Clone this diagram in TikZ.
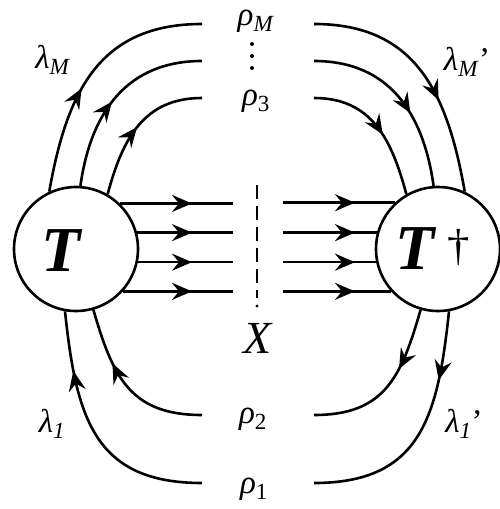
\documentclass[tikz,border=0pt]{standalone}
\usepackage{fontspec}
\setmainfont{Liberation Serif}
\usetikzlibrary{arrows.meta,decorations.markings}

\newcommand{\glab}[2]{\textit{#1}\textsubscript{#2}}

\tikzset{
  line/.style={line width=2.6pt},
  flow/.style={postaction={decorate},
    decoration={markings, mark=at position #1 with {\arrow{Stealth[length=20pt,width=17pt,inset=7pt]}}}},
  blob/.style={draw, circle, line width=2.6pt, minimum size=124pt, inner sep=0pt},
}

\begin{document}
\begin{tikzpicture}[x=1pt, y=1pt, font=\fontsize{33}{40}\selectfont, inner sep=1pt]
\useasboundingbox (0,0) rectangle (500,-509);

% Amplitudes
\node[blob] (T) at (76,-249) {};
\node[blob] (Td) at (438,-249) {};
\node[font=\fontsize{64}{64}\selectfont] (Tlab) at (62,-251) {\textbf{\textit{T}}};
\node[font=\fontsize{64}{64}\selectfont] (Tdlab) at (433,-249) {\textbf{\textit{T}}\,\textsuperscript{†}};

% Free ends
\coordinate (aM) at (202,-24);
\coordinate (aN) at (202,-61);
\coordinate (a3) at (202,-98);
\coordinate (bM) at (314,-24);
\coordinate (bN) at (314,-61);
\coordinate (b3) at (314,-98);
\coordinate (c2) at (202,-415);
\coordinate (c1) at (202,-483);
\coordinate (d2) at (314,-415);
\coordinate (d1) at (314,-483);
\coordinate (cutL) at (233,0);
\coordinate (cutR) at (283,0);

% Labels
\node (rhoM) at (256,-21) {\glab{ρ}{\textit{M}}};
\node (rho3) at (256,-101) {\glab{ρ}{3}};
\node (rho2) at (253,-419) {\glab{ρ}{2}};
\node (rho1) at (254,-489) {\glab{ρ}{1}};
\node (lamM) at (53,-60) {\glab{λ}{\textit{M}}};
\node (lamMp) at (467,-62) {\glab{λ}{\textit{M}}'};
\node (lam1) at (52,-424) {\glab{λ}{\textit{1}}};
\node (lam1p) at (464,-424) {\glab{λ}{\textit{1}}'};
\node[font=\fontsize{46}{46}\selectfont] (X) at (258,-338) {\textit{X}};

% vertical dots
\fill (252,-44) circle (2pt) (252,-56) circle (2pt) (252,-68) circle (2pt);

% Cut
\draw[line width=2.6pt, dash pattern=on 14pt off 7pt] (257,-185) -- (257,-298);
\fill (257,-306) circle (1.6pt);

% Lines through the cut
\draw[line, flow=-41pt] (T.46.5) -- (T.46.5 -| cutL);
\draw[line, flow=-41pt] (T.15) -- (T.15 -| cutL);
\draw[line, flow=-41pt] (T.-12.1) -- (T.-12.1 -| cutL);
\draw[line, flow=-41pt] (T.-42.6) -- (T.-42.6 -| cutL);
\draw[line, flow=72pt] (Td.133.5 -| cutR) -- (Td.133.5);
\draw[line, flow=72pt] (Td.165 -| cutR) -- (Td.165);
\draw[line, flow=72pt] (Td.192.1 -| cutR) -- (Td.192.1);
\draw[line, flow=72pt] (Td.222.6 -| cutR) -- (Td.222.6);

% Upper arcs
\draw[line, flow=0.43] (T.115) to[out=80, in=180, looseness=1.15] (aM);
\draw[line, flow=0.47] (T.86) to[out=82, in=180, looseness=1.1] (aN);
\draw[line, flow=0.5] (T.60) to[out=75, in=180, looseness=1.1] (a3);
\draw[line, flow=0.62] (bM) to[out=0, in=100, looseness=1.15] (Td.65);
\draw[line, flow=0.6] (bN) to[out=0, in=98, looseness=1.1] (Td.94);
\draw[line, flow=0.56] (b3) to[out=0, in=105, looseness=1.1] (Td.120);

% Lower arcs
\draw[line, flow=0.76] (c1) to[out=180, in=-84, looseness=1.25] (T.-100);
\draw[line, flow=0.66] (c2) to[out=180, in=-74, looseness=1.2] (T.-74);
\draw[line, flow=0.28] (Td.-80) to[out=-96, in=0, looseness=1.25] (d1);
\draw[line, flow=0.38] (Td.-106) to[out=-106, in=0, looseness=1.2] (d2);

\end{tikzpicture}
\end{document}
